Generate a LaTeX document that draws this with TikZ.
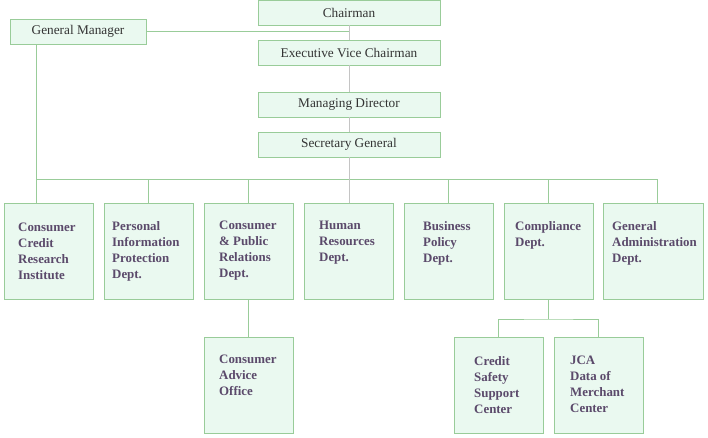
\documentclass[tikz,border=0pt]{standalone}
\usepackage{fontspec}
\setmainfont{Liberation Serif}
\definecolor{boxline}{HTML}{99CC99}
\definecolor{boxfill}{HTML}{EAF9F0}
\definecolor{greyline}{HTML}{C4C4C4}
\definecolor{toptext}{HTML}{333333}
\definecolor{depttext}{HTML}{5B4A6B}
\begin{document}
\begin{tikzpicture}[x=1pt,y=-1pt,
  topbox/.style={draw=boxline,fill=boxfill,line width=0.9pt,inner sep=0pt,
    minimum width=182pt,minimum height=25pt,text=toptext,
    font=\fontsize{13.3}{15}\selectfont},
  deptbox/.style={draw=boxline,fill=boxfill,line width=0.9pt,inner sep=0pt,
    minimum width=89pt,minimum height=96pt},
  depttxt/.style={anchor=north west,inner sep=0pt,align=left,text=depttext,
    font=\fontsize{12.9}{16}\selectfont\bfseries},
  conn/.style={draw=boxline,line width=0.9pt},
  gconn/.style={draw=greyline,line width=0.9pt}]
\useasboundingbox (0,0) rectangle (708,437);
% top boxes
\node[topbox] (chair) at (349,12.5) {\raisebox{-1pt}{Chairman}};
\node[topbox] (evc) at (349,52.5) {\raisebox{-1pt}{Executive Vice Chairman}};
\node[topbox] (md) at (349,104.5) {\raisebox{-1pt}{Managing Director}};
\node[topbox] (sg) at (349,144.5) {\raisebox{-1pt}{Secretary General}};
\node[topbox,minimum width=136pt] (gm) at (78,31.5) {\raisebox{-1pt}{General Manager}};
% dept boxes
\node[deptbox] (d1) at (48.5,251) {};
\node[deptbox] (d2) at (148.5,251) {};
\node[deptbox] (d3) at (248.5,251) {};
\node[deptbox] (d4) at (348.5,251) {};
\node[deptbox] (d5) at (448.5,251) {};
\node[deptbox] (d6) at (548.5,251) {};
\node[deptbox,minimum width=100pt] (d7) at (653,251) {};
\node[deptbox] (c1) at (248.5,385) {};
\node[deptbox] (s1) at (498.5,385) {};
\node[deptbox] (s2) at (598.5,385) {};
% texts
\node[depttxt] (t1) at (18,223) {Consumer\\Credit\\Research\\Institute};
\node[depttxt] (t2) at (112,221) {Personal\\Information\\Protection\\Dept.};
\node[depttxt] (t3) at (219,221) {Consumer\\\&~Public\\Relations\\Dept.};
\node[depttxt] (t4) at (319,221) {Human\\Resources\\Dept.};
\node[depttxt] (t5) at (423,221) {Business\\Policy\\Dept.};
\node[depttxt] (t6) at (515,221) {Compliance\\Dept.};
\node[depttxt] (t7) at (612,221) {General\\Administration\\Dept.};
\node[depttxt] (t8) at (219,355) {Consumer\\Advice\\Office};
\node[depttxt] (t9) at (474,356) {Credit\\Safety\\Support\\Center};
\node[depttxt] (t10) at (570,356) {JCA\\Data of\\Merchant\\Center};
% connectors
\coordinate (gmdown) at (36,44);
\coordinate (busL) at (36,179);
\coordinate (busR) at (657,179);
\coordinate (gmj) at (349,31.5);
\draw[gconn] (chair.south) -- (evc.north);
\draw[gconn] (evc.south) -- (md.north);
\draw[gconn] (md.south) -- (sg.north);
\draw[conn] (gm.east) -- (gmj);
\draw[conn] (gmdown) -- (busL) -- (busR) -- (busR |- d7.north);
\draw[conn] (d2.north |- busL) -- (d2.north);
\draw[conn] (d3.north |- busL) -- (d3.north);
\draw[conn] (d5.north |- busL) -- (d5.north);
\draw[conn] (d6.north |- busL) -- (d6.north);
\draw[conn] (busL) -- (d1.north -| busL);
\draw[gconn] (sg.south) -- (d4.north -| sg.south);
\draw[conn] (d3.south) -- (c1.north);
\coordinate (cj) at (548.5,319);
\draw[conn] (d6.south) -- (cj);
\draw[conn] (s1.north) |- (cj) -| (s2.north);
\end{tikzpicture}
\end{document}
